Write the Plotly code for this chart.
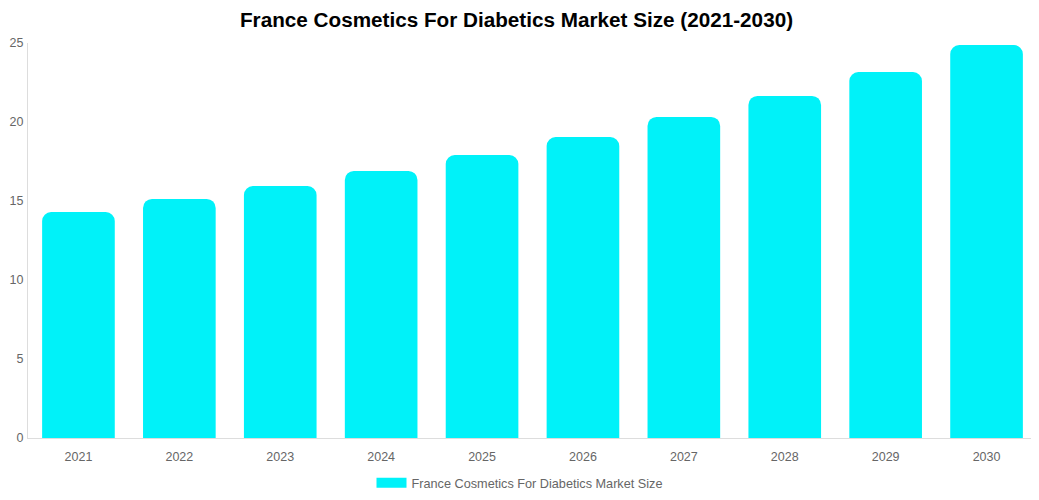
import plotly.graph_objects as go

years = ["2021", "2022", "2023", "2024", "2025", "2026", "2027", "2028", "2029", "2030"]
market_size = [14.3, 15.13, 15.95, 16.9, 17.91, 19.05, 20.32, 21.65, 23.16, 24.87]
y_ticks = [0, 5, 10, 15, 20, 25]
series_name = "France Cosmetics For Diabetics Market Size"
bar_color = "#00F2F9"

# the page body adds an 8px margin, so the figure is sized a little smaller
W, H = 1031, 492

fig = go.Figure()
fig.add_trace(go.Bar(
    x=years,
    y=market_size,
    name=series_name,
    marker=dict(color=bar_color, cornerradius=9, line=dict(width=0)),
    width=0.72,
    showlegend=False,
))
# wide legend swatch like the original
fig.add_trace(go.Scatter(
    x=[None], y=[None], mode="lines", name=series_name,
    line=dict(color=bar_color, width=12), showlegend=True,
))

fig.update_layout(
    title=dict(text="<b>France Cosmetics For Diabetics Market Size (2021-2030)</b>",
               xref="container", x=508.5 / W, xanchor="center", y=1 - 12 / H, yanchor="middle",
               font=dict(family="Arial", size=20.7, color="#000")),
    width=W, height=H,
    margin=dict(l=20, r=2, t=35, b=62),
    plot_bgcolor="white", paper_bgcolor="white",
    font=dict(family="Arial", size=12.5, color="#666"),
    showlegend=True,
    legend=dict(orientation="h", xref="container", yref="container",
                x=511.5 / W, xanchor="center", y=1 - 475 / H, yanchor="middle",
                font=dict(size=12.7, color="#666")),
)
fig.update_xaxes(showline=True, linecolor="#ddd", linewidth=1, showgrid=False, ticks="",
                 ticklabelstandoff=7, automargin=False)
fig.update_yaxes(range=[0, 25], tickvals=y_ticks, showline=True, linecolor="#ddd", linewidth=1,
                 showgrid=False, zeroline=False, ticks="", ticklabelstandoff=1, automargin=False)

fig.write_html("out.html")
